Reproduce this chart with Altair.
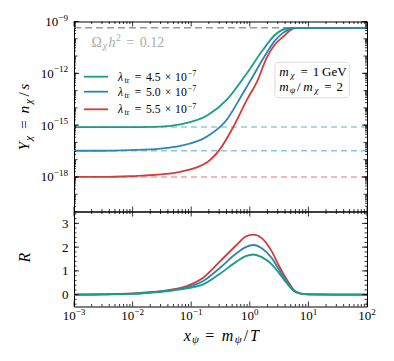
import altair as alt
import pandas as pd

FONT = "Liberation Serif"

# ---------------- data ----------------
series = ["4.5", "5.0", "5.5"]
colors = ["#1b9c85", "#2d84b5", "#d43c3a"]
light_colors = ["#8fd1cc", "#93c3dc", "#efa3a3"]

teal_x = [1e-3, 3e-3, 9e-3, 0.03, 0.065, 0.19, 0.41, 0.86, 1.68, 2.7, 4.9, 8, 20, 100]
teal_Y = [7.6e-16, 7.6e-16, 7.7e-16, 8.2e-16, 1.1e-15, 3.7e-15, 3.1e-14, 8.5e-13, 2.3e-11,
          1.7e-10, 4.2e-10, 4.3e-10, 4.3e-10, 4.3e-10]
blue_x = [1e-3, 3e-3, 9e-3, 0.03, 0.065, 0.19, 0.41, 0.63, 1.0, 1.9, 2.66, 3.7, 5.9, 20, 100]
blue_Y = [3.3e-17, 3.3e-17, 3.6e-17, 4.4e-17, 6.3e-17, 2.3e-16, 2.2e-15, 2.3e-14, 3.3e-13,
          1.35e-11, 7.6e-11, 2.2e-10, 4.2e-10, 4.3e-10, 4.3e-10]
red_x = [1e-3, 3e-3, 9e-3, 0.03, 0.065, 0.19, 0.31, 0.52, 0.90, 1.33, 1.94, 2.66, 3.7, 5.9,
         20, 100]
red_Y = [1.0e-18, 1.0e-18, 1.1e-18, 1.4e-18, 2.0e-18, 7.4e-18, 4.1e-17, 7.6e-16, 3.1e-14,
         3.3e-13, 7.9e-12, 4.5e-11, 1.3e-10, 4.2e-10, 4.3e-10, 4.3e-10]
plateau_Y = [7.7e-16, 3.3e-17, 1.0e-18]
relic_Y = [4.3e-10]

r_x = [0.001, 0.003, 0.01, 0.02, 0.0435, 0.084, 0.16, 0.31, 0.6, 0.85, 1.15, 1.6, 2.37,
       3.06, 4.27, 5.9, 7.7, 10, 30, 100]
r_teal = [0, 0.01, 0.03, 0.08, 0.16, 0.26, 0.43, 0.88, 1.40, 1.62, 1.69, 1.58, 1.27, 0.95,
          0.48, 0.12, 0.03, 0.01, 0, 0]
r_blue = [0, 0.01, 0.04, 0.09, 0.18, 0.30, 0.57, 1.13, 1.75, 2.00, 2.09, 1.95, 1.54, 1.10,
          0.55, 0.13, 0.03, 0.01, 0, 0]
r_red = [0, 0.01, 0.05, 0.10, 0.20, 0.36, 0.71, 1.40, 2.10, 2.45, 2.53, 2.38, 1.82, 1.27,
         0.64, 0.15, 0.04, 0.01, 0, 0]

x_major = [1e-3, 1e-2, 1e-1, 1e0, 1e1, 1e2]
x_exp = ["−3", "−2", "−1", "0", "1", "2"]
x_minor = [k * 10.0 ** n for n in range(-3, 2) for k in range(2, 10)]
y1_major = [1e-18, 1e-15, 1e-12, 1e-9]
y1_exp = ["−18", "−15", "−12", "−9"]
y1_decade = [10.0 ** n for n in range(-20, -8)]
y1_minor = [k * 10.0 ** n for n in range(-20, -9) for k in range(2, 10)]
y2_major = [0, 1, 2, 3]
y2_minor = [i / 5 for i in range(-2, 18)]

W, H1, H2 = 293, 190, 95
LBL = 13.0
EXP = LBL * 0.7

xs = alt.Scale(type="log", domain=[1e-3, 1e2], nice=False)
ys1 = alt.Scale(type="log", domain=[1e-20, 1e-9], nice=False)
ys2 = alt.Scale(domain=[-0.5, 3.5], nice=False, zero=False)

ONE = pd.DataFrame({"a": [0]})

yaxis2 = alt.Axis(values=y2_major, format="d", ticks=False, domain=False, grid=False,
                  title=None, labelPadding=6)

# ---------------- rich text helper ----------------
CMW = {'.': 0.278, ' ': 0.333, '/': 0.5, '−': 0.778, '=': 0.778, '×': 0.778, 'm': 0.878,
       'x': 0.572, 'T': 0.584, 'Y': 0.581, 'n': 0.6, 's': 0.469, 'h': 0.576, 'R': 0.759,
       'λ': 0.583, 'χ': 0.626, 'ψ': 0.651, 'Ω': 0.722, 'G': 0.785, 'e': 0.444, 'V': 0.75,
       't': 0.389, 'r': 0.392}


def P(t, sc=1.0, sh=0.0, it=False, ex=0.0):
    return (t, sc, sh, it, ex)


def rich(pieces, x, y, size, color="black", angle=0, anchor="start"):
    slots = [sum(CMW.get(c, 0.5) for c in t) * sc * size + ex * size for (t, sc, sh, it, ex) in pieces]
    total = sum(slots)
    off = 0 if anchor == "start" else -total / 2
    out = []
    for (t, sc, sh, it, ex), w in zip(pieces, slots):
        c = off + w / 2
        off += w
        if not t:
            continue
        if angle == 0:
            px, py = x + c, y - sh * size
        else:
            px, py = x - sh * size, y - c
        out.append(alt.Chart(ONE).mark_text(
            text=t, font=FONT, fontSize=size * sc, fontStyle="italic" if it else "normal",
            align="center", baseline="alphabetic", angle=angle, color=color
        ).encode(x=alt.value(px), y=alt.value(py)))
    return out


SUB = -0.18
SUP = 0.40


def lib_w(s, size):
    return sum(0.564 if c == "−" else 0.5 for c in s) * size


def ticks(values, axis, scale, length, side, Hh, yaxis=None):
    df = pd.DataFrame({"v": values})
    base = alt.Chart(df).mark_rule(color="black", strokeWidth=0.8)
    if axis == "x":
        enc = dict(x=alt.X("v:Q", scale=scale, axis=None))
        if side == "bottom":
            enc.update(y=alt.value(Hh), y2=alt.value(Hh - length))
        else:
            enc.update(y=alt.value(0), y2=alt.value(length))
    else:
        enc = dict(y=alt.Y("v:Q", scale=scale, axis=yaxis))
        if side == "left":
            enc.update(x=alt.value(0), x2=alt.value(length))
        else:
            enc.update(x=alt.value(W), x2=alt.value(W - length))
    return base.encode(**enc)


def x_labels(Hh):
    out = []
    groups = {}
    for v, e in zip(x_major, x_exp):
        groups.setdefault(lib_w(e, EXP), []).append((v, e))
    for ew, items in groups.items():
        df = pd.DataFrame({"v": [i[0] for i in items], "e": [i[1] for i in items]})
        total = LBL + ew
        edge = -total / 2 + LBL
        out.append(alt.Chart(df).mark_text(font=FONT, fontSize=LBL, align="right",
                                           baseline="alphabetic", dx=edge, text="10").encode(
            x=alt.X("v:Q", scale=xs, axis=None), y=alt.value(Hh + 13.5)))
        out.append(alt.Chart(df).mark_text(font=FONT, fontSize=EXP, align="left",
                                           baseline="alphabetic", dx=edge).encode(
            x=alt.X("v:Q", scale=xs, axis=None), y=alt.value(Hh + 8.3), text="e:N"))
    return out


def y_labels():
    out = []
    groups = {}
    for v, e in zip(y1_major, y1_exp):
        groups.setdefault(lib_w(e, EXP), []).append((v, e))
    for ew, items in groups.items():
        df = pd.DataFrame({"v": [i[0] for i in items], "e": [i[1] for i in items]})
        out.append(alt.Chart(df).mark_text(font=FONT, fontSize=LBL, align="right",
                                           baseline="alphabetic", dx=-6 - ew, dy=4.5,
                                           text="10").encode(
            y=alt.Y("v:Q", scale=ys1, axis=None), x=alt.value(0)))
        out.append(alt.Chart(df).mark_text(font=FONT, fontSize=EXP, align="right",
                                           baseline="alphabetic", dx=-6, dy=-1).encode(
            y=alt.Y("v:Q", scale=ys1, axis=None), x=alt.value(0), text="e:N"))
    return out


# ---------------- top panel ----------------
top_layers = []
plat_df = pd.DataFrame({"lam": series, "Y": plateau_Y})
top_layers.append(alt.Chart(plat_df).mark_rule(strokeDash=[6, 4], strokeWidth=1.5).encode(
    y=alt.Y("Y:Q", scale=ys1, axis=None),
    color=alt.Color("lam:N", scale=alt.Scale(domain=series, range=light_colors), legend=None)))
top_layers.append(alt.Chart(pd.DataFrame({"Y": relic_Y})).mark_rule(
    strokeDash=[7, 4], strokeWidth=1.5, color="#999999").encode(
    y=alt.Y("Y:Q", scale=ys1, axis=None)))

for xv, yv, col in [(red_x, red_Y, colors[2]), (teal_x, teal_Y, colors[0]), (blue_x, blue_Y, colors[1])]:
    df = pd.DataFrame({"x": xv, "Y": yv})
    top_layers.append(alt.Chart(df).mark_line(color=col, strokeWidth=1.8, interpolate="monotone",
                                              clip=True).encode(
        x=alt.X("x:Q", scale=xs, axis=None),
        y=alt.Y("Y:Q", scale=ys1, axis=None)))

for vals, ln in [(x_major, 5), (x_minor, 2.5)]:
    top_layers.append(ticks(vals, "x", xs, ln, "bottom", H1))
    top_layers.append(ticks(vals, "x", xs, ln, "top", H1))
for vals, ln in [(y1_major, 5), (y1_decade, 3.5), (y1_minor, 2)]:
    top_layers.append(ticks(vals, "y", ys1, ln, "left", H1, None))
    top_layers.append(ticks(vals, "y", ys1, ln, "right", H1, None))
top_layers += y_labels()

# legend
leg_y = [55.2, 70.2, 87.8]
for lab, col, yy in zip(series, colors, leg_y):
    top_layers.append(alt.Chart(ONE).mark_rule(color=col, strokeWidth=1.8).encode(
        x=alt.value(10), x2=alt.value(34), y=alt.value(yy)))
    top_layers += rich([P("λ", it=True), P("tr", 0.7, SUB), P("=", ex=0.556), P(lab),
                        P("×", ex=0.444), P("10"), P("−7", 0.7, SUP)], 43, yy + 4, 11.7)

# annotation box
top_layers.append(alt.Chart(ONE).mark_rect(fill="white", stroke="#d8d8d8", strokeWidth=1,
                                           cornerRadius=3, opacity=0.9).encode(
    x=alt.value(201), x2=alt.value(275.3), y=alt.value(40.8), y2=alt.value(76.2)))
top_layers += rich([P("m", it=True), P("χ", 0.7, SUB, True), P("=", ex=0.556), P("1"),
                    P("", ex=0.167), P("GeV")], 204.3, 54.5, 13)
top_layers += rich([P("m", it=True), P("ψ", 0.7, SUB, True), P("/"), P("m", it=True),
                    P("χ", 0.7, SUB, True), P("=", ex=0.556), P("2")], 204.3, 69, 13)

# relic label
top_layers += rich([P("Ω"), P("χ", 0.7, SUB, True), P("h", it=True), P("2", 0.7, SUP),
                    P("=", ex=0.556), P("0.12")], 17.7, 25, 14, color="#aaaaaa")

# y title
top_layers += rich([P("Y", it=True), P("χ", 0.7, SUB, True), P("=", ex=0.556), P("n", it=True),
                    P("χ", 0.7, SUB, True), P("/"), P("s", it=True)], -45, 95.5, 15.5,
                   angle=270, anchor="middle")

top = alt.layer(*top_layers).properties(width=W, height=H1)

# ---------------- bottom panel ----------------
bot_layers = []
for yv, col in [(r_red, colors[2]), (r_blue, colors[1]), (r_teal, colors[0])]:
    df = pd.DataFrame({"x": r_x, "R": yv})
    bot_layers.append(alt.Chart(df).mark_line(color=col, strokeWidth=1.8, interpolate="monotone",
                                              clip=True).encode(
        x=alt.X("x:Q", scale=xs, axis=None),
        y=alt.Y("R:Q", scale=ys2, axis=yaxis2)))
for vals, ln in [(x_major, 5), (x_minor, 2.5)]:
    bot_layers.append(ticks(vals, "x", xs, ln, "bottom", H2))
    bot_layers.append(ticks(vals, "x", xs, ln, "top", H2))
for vals, ln in [(y2_major, 5), (y2_minor, 2.5)]:
    bot_layers.append(ticks(vals, "y", ys2, ln, "left", H2, yaxis2))
    bot_layers.append(ticks(vals, "y", ys2, ln, "right", H2, yaxis2))
bot_layers += x_labels(H2)

bot_layers += rich([P("R", it=True)], -44, 46, 16, angle=270, anchor="middle")
bot_layers += rich([P("x", it=True), P("ψ", 0.7, SUB, True), P("=", ex=0.556), P("m", it=True),
                    P("ψ", 0.7, SUB, True), P("/"), P("T", it=True)], 147, 129, 16,
                   anchor="middle")

bottom = alt.layer(*bot_layers).properties(width=W, height=H2)

chart = alt.vconcat(top, bottom, spacing=0, bounds="flush").properties(
    padding={"left": 8, "top": 4.5, "right": 5, "bottom": 5}
).configure_view(stroke="black", strokeWidth=1).configure_axis(
    labelFont=FONT, labelFontSize=13, labelColor="black")

chart.save("out.html", embed_options={"renderer": "svg", "actions": False})
